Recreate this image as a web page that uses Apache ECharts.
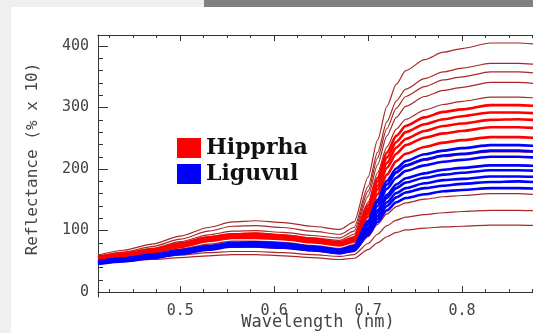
<!DOCTYPE html>
<html>
<head>
<meta charset="utf-8">
<script src="https://cdn.jsdelivr.net/npm/echarts@6/dist/echarts.min.js"></script>
<style>
  html, body { margin: 0; padding: 0; background: #efefef; overflow: hidden; }
  #wrap { position: relative; width: 533px; height: 333px; overflow: hidden; background: #efefef; }
  #bar { position: absolute; left: 204px; top: 0; width: 329px; height: 7px; background: #808080; }
  #panel { position: absolute; left: 11px; top: 7px; right: 0; bottom: 0; background: #ffffff; }
  #chart { position: absolute; left: 0; top: 0; width: 603px; height: 333px; }
</style>
</head>
<body>
<div id="wrap">
  <div id="bar"></div>
  <div id="panel"></div>
  <div id="chart"></div>
</div>
<script>
// Wavelength samples (micrometres, labelled "nm" in the original)
const wavelengths = [0.4125,0.44,0.47,0.50,0.53,0.555,0.58,0.61,0.64,0.67,0.685,0.70,0.71,0.72,0.73,0.74,0.76,0.78,0.80,0.83,0.86,0.89,0.92,0.95];

// Hipprha – thin dark red spectra
const hipprhaThin1 = [60,68,78,91,105,114,116,113,107,102,114,187,247,302,338,360,378,390,396,405,405,402,399,396];
const hipprhaThin2 = [58,65,74,86,99,107,108,105,99,94,105,172,227,277,311,330,347,358,364,372,372,369,366,363];
const hipprhaThin3 = [57,63,71,82,93,99,100,97,92,88,99,164,218,266,299,318,334,345,350,358,358,355,352,349];
const hipprhaThin4 = [56,62,70,80,90,95,96,93,88,84,94,156,207,254,284,302,318,328,333,341,341,338,335,332];
const hipprhaThin5 = [55,61,68,78,87,92,92,89,84,80,89,146,194,236,265,281,296,305,310,317,317,315,312,310];
const hipprhaThin6 = [51,56,62,70,78,83,83,81,76,71,77,115,146,175,193,204,214,220,223,228,228,226,224,222];
const hipprhaThin7 = [49,53,58,64,70,73,73,71,67,63,67,90,110,127,139,145,151,155,157,160,160,158,157,155];
const hipprhaThin8 = [50,53,56,60,64,66,66,64,61,58,61,79,94,108,117,122,126,129,131,133,133,132,130,129];
const hipprhaThin9 = [48,50,53,56,59,61,61,59,56,53,55,69,80,90,97,101,104,106,107,109,109,108,107,106];

// Hipprha – bright red spectra
const hipprhaBold1 = [57,63,69,79,89,94,95,92,87,81,89,141,186,227,254,270,284,293,297,304,304,302,299,297];
const hipprhaBold2 = [56,61,67,77,87,92,93,90,85,79,87,136,180,219,244,260,273,281,286,292,292,290,287,285];
const hipprhaBold3 = [55,60,66,75,85,90,91,88,83,78,85,132,173,210,235,249,262,270,274,280,281,279,276,274];
const hipprhaBold4 = [54,59,65,74,84,89,89,87,82,77,84,128,167,202,225,239,251,258,262,268,268,266,264,262];
const hipprhaBold5 = [53,58,64,73,83,88,88,86,81,76,82,123,159,191,213,225,236,243,247,252,252,250,248,246];

// Liguvul – blue spectra
const liguvul1 = [50,55,60,67,74,79,80,78,73,68,75,116,150,181,201,213,224,230,234,239,239,237,235,233];
const liguvul2 = [50,55,61,68,75,80,81,79,74,69,75,114,146,175,195,206,216,222,225,230,230,228,226,224];
const liguvul3 = [49,54,59,66,73,78,79,77,72,67,73,110,140,168,186,197,206,212,215,220,220,218,216,214];
const liguvul4 = [48,53,58,65,72,77,78,76,71,66,72,105,133,158,175,185,193,199,202,206,206,205,203,201];
const liguvul5 = [47,52,57,64,71,76,77,75,70,65,70,102,129,153,169,178,186,191,194,198,198,197,195,193];
const liguvul6 = [47,51,56,63,70,75,76,74,69,64,69,99,124,146,161,169,177,182,184,188,188,187,185,183];
const liguvul7 = [46,51,56,63,70,75,76,74,69,64,69,96,119,140,154,162,169,173,176,179,180,178,177,175];
const liguvul8 = [46,50,55,62,69,74,74,72,68,63,67,93,114,133,146,153,159,164,166,169,169,168,166,165];

// Axis ticks
const xMajorTicks = [0.5,0.6,0.7,0.8,0.9];
const xMinorTicks = [0.425,0.45,0.475,0.525,0.55,0.575,0.625,0.65,0.675,0.725,0.75,0.775,0.825,0.85,0.875,0.925,0.95];
const yMajorTicks = [0,100,200,300,400];
const yMinorTicks = [20,40,60,80,120,140,160,180,220,240,260,280,320,340,360,380];

const hipprhaThinSet = [hipprhaThin1,hipprhaThin2,hipprhaThin3,hipprhaThin4,hipprhaThin5,hipprhaThin6,hipprhaThin7,hipprhaThin8,hipprhaThin9];
const hipprhaBoldSet = [hipprhaBold1,hipprhaBold2,hipprhaBold3,hipprhaBold4,hipprhaBold5];
const liguvulSet = [liguvul1,liguvul2,liguvul3,liguvul4,liguvul5,liguvul6,liguvul7,liguvul8];

const toPairs = arr => wavelengths.map((w, i) => [w, arr[i]]);
const mkSeries = (name, arr, color, width, z) => ({
  type: 'line', name: name, data: toPairs(arr), showSymbol: false,
  smooth: 0.25, smoothMonotone: 'x', z: z,
  lineStyle: { color: color, width: width }, itemStyle: { color: color },
  emphasis: { disabled: true }, silent: true
});

const series = [];
hipprhaThinSet.forEach(a => series.push(mkSeries('Hipprha', a, '#a82828', 1.2, 2)));
hipprhaBoldSet.forEach(a => series.push(mkSeries('Hipprha', a, '#ff0000', 2.6, 3)));
liguvulSet.forEach(a => series.push(mkSeries('Liguvul', a, '#0000ff', 2.6, 4)));

const tickFont = { fontFamily: 'DejaVu Sans Mono', fontSize: 15, color: '#444' };
const axisLineStyle = { lineStyle: { color: '#333', width: 1 } };
const XMIN = 0.4125, XMAX = 0.95, YMIN = -8, YMAX = 418;

const chart = echarts.init(document.getElementById('chart'), null, { renderer: 'canvas' });
chart.setOption({
  animation: false,
  backgroundColor: 'transparent',
  grid: { left: 98, top: 35, bottom: 36, width: 505, containLabel: false },
  legend: {
    left: 172, top: 132, orient: 'vertical', icon: 'rect',
    itemWidth: 24, itemHeight: 20, itemGap: 4, selectedMode: false,
    textStyle: { fontFamily: 'DejaVu Serif', fontSize: 22, fontWeight: 'bold', color: '#111', lineHeight: 22 },
    data: [
      { name: 'Hipprha', itemStyle: { color: '#ff0000' } },
      { name: 'Liguvul', itemStyle: { color: '#0000ff' } }
    ]
  },
  xAxis: [
    { type: 'value', position: 'bottom', min: XMIN, max: XMAX, axisLine: axisLineStyle,
      axisTick: { inside: true, length: 6, customValues: xMajorTicks, lineStyle: { color: '#333' } },
      axisLabel: Object.assign({ customValues: xMajorTicks, margin: 7, formatter: v => v.toFixed(1) }, tickFont),
      splitLine: { show: false } },
    { type: 'value', position: 'bottom', min: XMIN, max: XMAX, axisLine: { show: false },
      axisTick: { inside: true, length: 3, customValues: xMinorTicks, lineStyle: { color: '#333' } },
      axisLabel: { show: false }, splitLine: { show: false } },
    { type: 'value', position: 'top', min: XMIN, max: XMAX, axisLine: axisLineStyle,
      axisTick: { inside: true, length: 6, customValues: xMajorTicks, lineStyle: { color: '#333' } },
      axisLabel: { show: false }, splitLine: { show: false } },
    { type: 'value', position: 'top', min: XMIN, max: XMAX, axisLine: { show: false },
      axisTick: { inside: true, length: 3, customValues: xMinorTicks, lineStyle: { color: '#333' } },
      axisLabel: { show: false }, splitLine: { show: false } }
  ],
  yAxis: [
    { type: 'value', position: 'left', min: YMIN, max: YMAX, axisLine: axisLineStyle,
      axisTick: { inside: true, length: 10, customValues: yMajorTicks, lineStyle: { color: '#333' } },
      axisLabel: Object.assign({ customValues: yMajorTicks, margin: 9 }, tickFont),
      splitLine: { show: false } },
    { type: 'value', position: 'left', min: YMIN, max: YMAX, axisLine: { show: false },
      axisTick: { inside: true, length: 5, customValues: yMinorTicks, lineStyle: { color: '#333' } },
      axisLabel: { show: false }, splitLine: { show: false } }
  ],
  graphic: [
    { type: 'text', x: 33, y: 159, rotation: Math.PI / 2,
      style: { text: 'Reflectance (% x 10)', fontFamily: 'DejaVu Sans Mono', fontSize: 16, fill: '#444',
               align: 'center', verticalAlign: 'middle' } },
    { type: 'text', x: 318, y: 323,
      style: { text: 'Wavelength (nm)', fontFamily: 'DejaVu Sans Mono', fontSize: 17, fill: '#444',
               align: 'center', verticalAlign: 'middle' } }
  ],
  series: series
});
</script>
</body>
</html>
